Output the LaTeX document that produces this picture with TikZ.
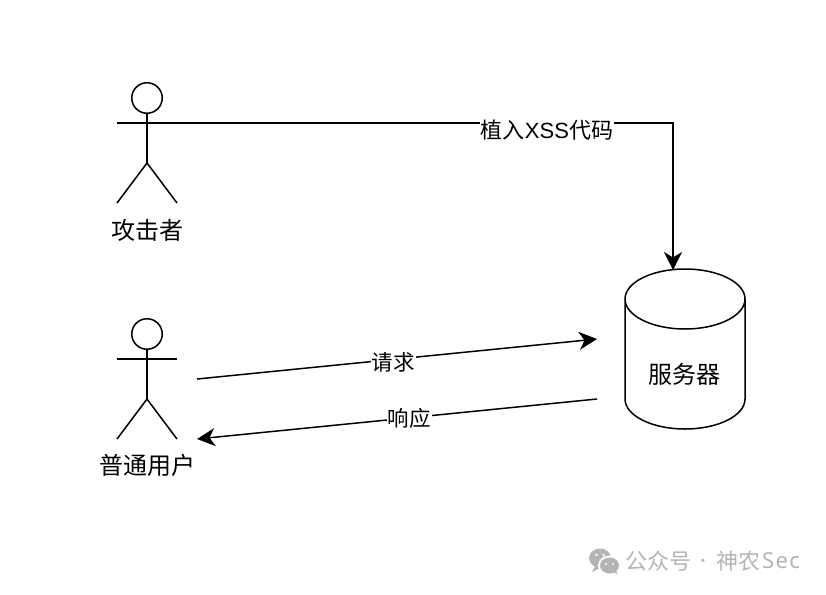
\documentclass[tikz,border=0pt]{standalone}
\usepackage{fontspec}
\usetikzlibrary{arrows.meta}
\setmainfont{Noto Sans CJK SC}
\newfontfamily\latinlab{Liberation Sans}
\newfontfamily\secfont[LetterSpace=6]{Noto Sans}
\tikzset{
  line/.style={line width=1.5pt,black},
  link/.style={line,-{Stealth[length=18pt,width=18pt,inset=5.5pt]}},
  lab/.style={font=\fontsize{24pt}{26pt}\selectfont,text=black,inner sep=0pt},
  edgelab/.style={font=\fontsize{21.5pt}{24pt}\selectfont,text=black,inner sep=1pt,fill=white},
  wm/.style={font=\fontsize{22pt}{26pt}\selectfont,text=wmgrey,inner sep=0pt},
}
\definecolor{wmgrey}{HTML}{B4B4B4}
\begin{document}
\begin{tikzpicture}[x=1pt,y=-1pt]
\useasboundingbox[fill=white] (0,0) rectangle (826,594);
% attacker
\node[circle,line,draw,minimum size=30.5pt,inner sep=0pt] (headA) at (147,98) {};
\coordinate (armAl) at (117,123);
\coordinate (armAr) at (177,123);
\coordinate (hipA) at (147,163);
\coordinate (footAl) at (117,203);
\coordinate (footAr) at (177,203);
\draw[line] (headA.south) -- (hipA);
\draw[line] (armAl) -- (armAr);
\draw[line] (footAl) -- (hipA) -- (footAr);
\node[lab] (attacker) at (147,230) {攻击者};
% user
\node[circle,line,draw,minimum size=30.5pt,inner sep=0pt] (headU) at (147,334) {};
\coordinate (armUl) at (117,359);
\coordinate (armUr) at (177,359);
\coordinate (hipU) at (147,399);
\coordinate (footUl) at (117,439);
\coordinate (footUr) at (177,439);
\draw[line] (headU.south) -- (hipU);
\draw[line] (armUl) -- (armUr);
\draw[line] (footUl) -- (hipU) -- (footUr);
\node[lab] (user) at (147,465) {普通用户};
% server
\node[lab,minimum width=120pt,minimum height=160pt] (server) at (685,349) {};
\node[lab] (serverlab) at (684,374) {服务器};
\draw[line] (625,299) arc[start angle=180,end angle=0,x radius=60,y radius=30]
  -- (745,399) arc[start angle=0,end angle=180,x radius=60,y radius=30] -- cycle;
\draw[line] (625,299) arc[start angle=180,end angle=360,x radius=60,y radius=30];
% connectors
\coordinate (reqS) at (197,379);
\coordinate (reqE) at (597,339);
\coordinate (resS) at (597,399);
\coordinate (resE) at (197,439);
\coordinate (srvTop) at (673,270);
\coordinate (corner) at (673,123);
\draw[link] (armAr) -- (corner) -- (srvTop);
\node[edgelab,font=\fontsize{22pt}{24pt}\selectfont] (plant) at (547,130) {植入{\latinlab XSS}代码};
\draw[link] (reqS) -- (reqE);
\node[edgelab] (reqlab) at (393,362) {请求};
\draw[link] (resS) -- (resE);
\node[edgelab] (reslab) at (409,418) {响应};
% watermark
\fill[wmgrey] (600,558) ellipse[x radius=11,y radius=9.5];
\fill[wmgrey] (595,566) -- (592,572) -- (600,568) -- cycle;
\fill[white] (609.5,565.5) ellipse[x radius=11.5,y radius=10];
\fill[wmgrey] (609.5,565.5) ellipse[x radius=9.5,y radius=8];
\fill[wmgrey] (613,571) -- (617,575) -- (616,569) -- cycle;
\fill[white] (596.5,555) circle[radius=1.4] (603.5,555) circle[radius=1.4]
  (606,564) circle[radius=1.2] (613,564) circle[radius=1.2];
\node[wm,anchor=west] (mark) at (625,561) {公众号};
\node[wm,font=\fontsize{15pt}{18pt}\selectfont] (dot) at (703,562.5) {·};
\node[wm,anchor=west] (mark2) at (716,561) {神农};
\node[wm,anchor=west] (mark3) at (762,561) {\secfont Sec};
\end{tikzpicture}
\end{document}
